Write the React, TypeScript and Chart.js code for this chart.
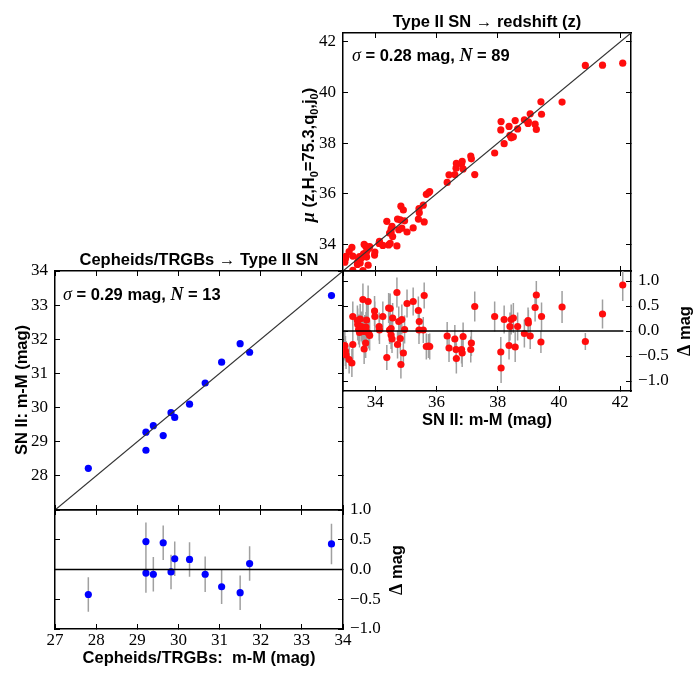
import React, { useEffect, useRef } from 'react';
import { Chart, registerables } from 'chart.js';

Chart.register(...registerables);

// ---------- data: Cepheid/TRGB calibrators (blue) ----------
const calibMM = [27.81, 29.21, 29.21, 29.39, 29.63, 29.82, 29.91, 30.27, 30.65, 31.05, 31.50, 31.73, 33.72];
const calibSN = [28.22, 28.75, 29.28, 29.47, 29.18, 29.85, 29.71, 30.10, 30.72, 31.33, 31.87, 31.62, 33.28];
const calibResid = [-0.42, 0.47, -0.06, -0.08, 0.45, -0.04, 0.18, 0.17, -0.08, -0.29, -0.39, 0.10, 0.43];
const calibErr = [0.29, 0.32, 0.33, 0.29, 0.29, 0.29, 0.29, 0.29, 0.30, 0.29, 0.29, 0.29, 0.34];

// ---------- data: Type II SN in the Hubble flow (red) ----------
const snMM = [
  33.01, 33.03, 33.05, 33.15, 33.24, 33.27, 33.27, 33.43, 33.46, 33.49,
  33.51, 33.55, 33.58, 33.60, 33.62, 33.64, 33.66, 33.69, 33.72, 33.73,
  33.77, 33.79, 33.82, 33.98, 33.99, 34.13, 34.14, 34.25, 34.38, 34.44,
  34.49, 34.47, 34.52, 34.55, 34.57, 34.71, 34.73, 34.77, 34.82, 34.84,
  34.87, 34.92, 34.96, 35.04, 35.24, 35.41, 35.44, 35.43, 35.57, 35.60,
  35.67, 35.78, 35.74, 36.35, 36.41, 36.60, 36.65, 36.64, 36.82, 36.84,
  36.87, 37.12, 37.14, 37.25, 37.90, 38.10, 38.11, 38.21, 38.37, 38.40,
  38.44, 38.51, 38.57, 38.65, 38.87, 38.99, 39.00, 39.06, 39.22, 39.26,
  39.41, 39.43, 40.10, 40.86, 41.42, 42.08, 33.42, 34.52, 33.70,
];
const snMu = [
  33.30, 33.43, 33.53, 33.72, 33.88, 33.54, 32.98, 33.30, 33.43, 33.52,
  33.27, 33.46, 33.53, 32.97, 33.63, 34.00, 33.64, 33.93, 33.50, 33.75,
  33.18, 33.84, 33.91, 33.58, 33.70, 34.04, 34.12, 33.96, 34.91, 33.98,
  34.04, 34.45, 34.60, 34.71, 34.31, 33.94, 35.00, 34.58, 34.97, 35.51,
  34.64, 35.36, 34.93, 34.49, 34.65, 35.00, 35.25, 35.41, 35.55, 34.89,
  35.98, 36.09, 36.04, 36.45, 36.75, 36.76, 37.20, 37.01, 37.19, 37.28,
  36.98, 37.49, 37.38, 36.76, 37.61, 38.52, 38.85, 37.98, 38.66, 38.31,
  38.21, 38.25, 38.89, 38.56, 38.92, 38.78, 38.84, 39.16, 38.75, 38.54,
  39.63, 39.14, 39.62, 41.07, 41.08, 41.16, 33.21, 34.47, 33.62,
];
const snResid = [
  -0.29, -0.40, -0.48, -0.57, -0.64, -0.27, 0.29, 0.13, 0.03, -0.03,
  0.24, 0.09, 0.05, 0.63, -0.01, -0.36, 0.02, -0.24, 0.22, -0.02,
  0.59, -0.05, -0.09, 0.40, 0.29, 0.09, 0.02, 0.29, -0.53, 0.46,
  0.45, 0.02, -0.08, -0.16, 0.26, 0.77, -0.27, 0.19, -0.15, -0.67,
  0.23, -0.44, 0.03, 0.55, 0.59, 0.41, 0.19, 0.02, 0.02, 0.71,
  -0.31, -0.31, -0.30, -0.10, -0.34, -0.16, -0.55, -0.37, -0.37, -0.44,
  -0.11, -0.37, -0.24, 0.49, 0.29, -0.42, -0.74, 0.23, -0.29, 0.09,
  0.23, 0.26, -0.32, 0.09, -0.05, 0.21, 0.16, -0.10, 0.47, 0.72,
  -0.22, 0.29, 0.48, -0.21, 0.34, 0.92, 0.21, 0.05, 0.08,
];
const snErr = [
  0.30, 0.30, 0.28, 0.28, 0.28, 0.30, 0.30, 0.32, 0.30, 0.30,
  0.30, 0.30, 0.30, 0.32, 0.30, 0.30, 0.30, 0.30, 0.32, 0.30,
  0.32, 0.30, 0.30, 0.30, 0.30, 0.28, 0.28, 0.30, 0.25, 0.30,
  0.30, 0.28, 0.28, 0.28, 0.30, 0.30, 0.28, 0.30, 0.28, 0.28,
  0.30, 0.25, 0.28, 0.28, 0.28, 0.28, 0.28, 0.28, 0.26, 0.26,
  0.26, 0.26, 0.24, 0.28, 0.28, 0.28, 0.30, 0.28, 0.28, 0.28,
  0.28, 0.26, 0.26, 0.30, 0.30, 0.30, 0.30, 0.28, 0.28, 0.28,
  0.30, 0.30, 0.30, 0.28, 0.28, 0.26, 0.26, 0.26, 0.28, 0.28,
  0.22, 0.28, 0.32, 0.17, 0.29, 0.32, 0.30, 0.28, 0.30,
];

// axis ranges / reference lines
const calibRange = [27, 34];
const snRange = [32.95, 42.35];
const calibResRange = [-1, 1];
const snResRange = [-1.2, 1.2];
const snZeroSpan = [32.95, 42.1];

// ---------- layout ----------
const W = 696;
const H = 675;
const SANS = 'bold 16.5px "Liberation Sans"';
const SUB = 'bold 11px "Liberation Sans"';
const MATH = 'italic 18px "Liberation Serif"';
const MATHB = 'italic bold 18px "Liberation Serif"';
const TICK_FONT = { family: 'Liberation Serif', size: 17 };
const LABEL_W = 50; // room reserved for vertical tick labels
const LABEL_H = 28; // room reserved for horizontal tick labels

type Seg = { t: string; f: string; dy?: number };
type Label = { segs: Seg[]; x: number; y: number; align: 'left' | 'center'; rot?: number };

const labelsPlugin = (labels: Label[]) => ({
  id: 'panelLabels',
  afterDraw(chart: any) {
    const ctx = chart.ctx as CanvasRenderingContext2D;
    for (const lb of labels) {
      ctx.save();
      ctx.translate(lb.x, lb.y);
      if (lb.rot) ctx.rotate(lb.rot);
      ctx.fillStyle = '#000';
      ctx.textBaseline = 'alphabetic';
      ctx.textAlign = 'left';
      let w = 0;
      for (const s of lb.segs) {
        ctx.font = s.f;
        w += ctx.measureText(s.t).width;
      }
      let cx = lb.align === 'center' ? -w / 2 : 0;
      for (const s of lb.segs) {
        ctx.font = s.f;
        ctx.fillText(s.t, cx, s.dy || 0);
        cx += ctx.measureText(s.t).width;
      }
      ctx.restore();
    }
  },
});

const fmtInt = (hide?: number) => (v: any) =>
  hide !== undefined && Math.abs(v - hide) < 1e-9 ? '' : String(Math.round(v));
const fmtRes = (v: any) => (Math.abs(v) < 1e-9 ? 0 : v).toFixed(1).replace('-', '\u2212');

function axis(
  ax: 'x' | 'y',
  position: 'left' | 'right' | 'top' | 'bottom',
  range: number[],
  step: number,
  showLabels: boolean,
  fmt: any,
  pad: number
) {
  const vertical = position === 'left' || position === 'right';
  const size = showLabels ? (vertical ? LABEL_W : LABEL_H) : 0;
  return {
    type: 'linear',
    axis: ax,
    position,
    min: range[0],
    max: range[1],
    afterFit: (s: any) => {
      if (vertical) s.width = size;
      else s.height = size;
    },
    grid: {
      display: true,
      drawOnChartArea: false,
      drawTicks: true,
      tickLength: -5,
      tickWidth: 1,
      tickColor: '#000',
    },
    border: { display: true, color: '#000', width: 1.5 },
    ticks: {
      display: showLabels,
      stepSize: step,
      includeBounds: false,
      autoSkip: false,
      maxRotation: 0,
      minRotation: 0,
      font: TICK_FONT,
      color: '#000',
      padding: pad,
      callback: fmt,
    },
  };
}

const pts = (xs: number[], ys: number[], color: string) => ({
  data: xs.map((x, i) => ({ x, y: ys[i] })),
  showLine: false,
  pointRadius: 3.6,
  pointBackgroundColor: color,
  pointBorderColor: color,
  pointBorderWidth: 0,
  clip: 0,
});

const errBars = (xs: number[], ys: number[], es: number[]) => {
  const d: any[] = [];
  xs.forEach((x, i) => {
    d.push({ x, y: ys[i] - es[i] }, { x, y: ys[i] + es[i] }, { x, y: null });
  });
  return {
    data: d,
    showLine: true,
    spanGaps: false,
    borderColor: '#a0a0a0',
    borderWidth: 1.5,
    pointRadius: 0,
    clip: 0,
  };
};

const refLine = (xs: number[], ys: number[], color: string, width: number) => ({
  data: xs.map((x, i) => ({ x, y: ys[i] })),
  showLine: true,
  borderColor: color,
  borderWidth: width,
  pointRadius: 0,
  clip: 0,
});

type Box = { l: number; t: number; r: number; b: number };

function makeConfig(box: Box, scales: any, datasets: any[], labels: Label[]) {
  // subtract the space taken by labelled axes so the plot area lands on `box`
  const pad = { left: box.l, top: box.t, right: W - box.r, bottom: H - box.b };
  Object.values(scales).forEach((s: any) => {
    if (!s.ticks.display) return;
    if (s.position === 'left') pad.left -= LABEL_W;
    if (s.position === 'right') pad.right -= LABEL_W;
    if (s.position === 'top') pad.top -= LABEL_H;
    if (s.position === 'bottom') pad.bottom -= LABEL_H;
  });
  return {
    type: 'scatter',
    data: { datasets },
    options: {
      responsive: false,
      animation: false,
      events: [],
      layout: { padding: pad },
      plugins: { legend: { display: false }, tooltip: { enabled: false }, title: { display: false } },
      scales,
    },
    plugins: [labelsPlugin(labels)],
  } as any;
}

const sigmaLabel = (sig: string, n: string, x: number, y: number): Label => ({
  segs: [
    { t: '\u03C3', f: MATH },
    { t: ' = ' + sig + ' mag, ', f: SANS },
    { t: 'N', f: MATHB },
    { t: ' = ' + n, f: SANS },
  ],
  x,
  y,
  align: 'left',
});

const deltaLabel = (x: number, y: number): Label => ({
  segs: [
    { t: '\u0394', f: 'bold 18px "Liberation Serif"' },
    { t: ' mag', f: SANS },
  ],
  x,
  y,
  align: 'center',
  rot: -Math.PI / 2,
});

// Panel A: Cepheids/TRGBs vs SN II distance moduli
const configA = () =>
  makeConfig(
    { l: 55, t: 271, r: 343, b: 510 },
    {
      x: axis('x', 'bottom', calibRange, 1, false, fmtInt(), 6),
      x2: axis('x', 'top', calibRange, 1, false, fmtInt(), 6),
      y: axis('y', 'left', calibRange, 1, true, fmtInt(27), 12),
      y2: axis('y', 'right', calibRange, 1, false, fmtInt(), 12),
    },
    [
      refLine(calibRange, calibRange, '#333', 1.2),
      pts(calibMM, calibSN, '#0000ff'),
    ],
    [
      { segs: [{ t: 'Cepheids/TRGBs \u2192 Type II SN', f: SANS }], x: 199, y: 265, align: 'center' },
      sigmaLabel('0.29', '13', 63, 300),
      { segs: [{ t: 'SN II: m-M (mag)', f: SANS }], x: 27, y: 390, align: 'center', rot: -Math.PI / 2 },
    ]
  );

// Panel B: calibrator residuals
const configB = () =>
  makeConfig(
    { l: 55, t: 510, r: 343, b: 629 },
    {
      x: axis('x', 'bottom', calibRange, 1, true, fmtInt(), 6),
      x2: axis('x', 'top', calibRange, 1, false, fmtInt(), 6),
      y: axis('y', 'right', calibResRange, 0.5, true, fmtRes, 12),
      y2: axis('y', 'left', calibResRange, 0.5, false, fmtRes, 12),
    },
    [
      refLine(calibRange, [0, 0], '#000', 1.5),
      pts(calibMM, calibResid, '#0000ff'),
      errBars(calibMM, calibResid, calibErr),
    ],
    [
      { segs: [{ t: 'Cepheids/TRGBs:  m-M (mag)', f: SANS }], x: 199, y: 663, align: 'center' },
      deltaLabel(402, 570),
    ]
  );

// Panel C: SN II vs redshift-based distance modulus
const configC = () =>
  makeConfig(
    { l: 343, t: 33, r: 631, b: 271 },
    {
      x: axis('x', 'bottom', snRange, 2, false, fmtInt(), 6),
      x2: axis('x', 'top', snRange, 2, false, fmtInt(), 6),
      y: axis('y', 'left', snRange, 2, true, fmtInt(), 12),
      y2: axis('y', 'right', snRange, 2, false, fmtInt(), 12),
    },
    [
      refLine(snRange, snRange, '#333', 1.2),
      pts(snMM, snMu, '#ff0d0d'),
    ],
    [
      { segs: [{ t: 'Type II SN \u2192 redshift (z)', f: SANS }], x: 487, y: 27, align: 'center' },
      sigmaLabel('0.28', '89', 352, 61),
      {
        segs: [
          { t: '\u03BC', f: MATHB },
          { t: ' (z,H', f: SANS },
          { t: '0', f: SUB, dy: 4 },
          { t: '=75.3,q', f: SANS },
          { t: '0', f: SUB, dy: 4 },
          { t: ',j', f: SANS },
          { t: '0', f: SUB, dy: 4 },
          { t: ')', f: SANS },
        ],
        x: 314,
        y: 155,
        align: 'center',
        rot: -Math.PI / 2,
      },
    ]
  );

// Panel D: SN II Hubble residuals
const configD = () =>
  makeConfig(
    { l: 343, t: 271, r: 631, b: 391 },
    {
      x: axis('x', 'bottom', snRange, 2, true, fmtInt(), 6),
      x2: axis('x', 'top', snRange, 2, false, fmtInt(), 6),
      y: axis('y', 'right', snResRange, 0.5, true, fmtRes, 12),
      y2: axis('y', 'left', snResRange, 0.5, false, fmtRes, 12),
    },
    [
      refLine(snZeroSpan, [0, 0], '#000', 1.5),
      pts(snMM, snResid, '#ff0d0d'),
      errBars(snMM, snResid, snErr),
    ],
    [
      { segs: [{ t: 'SN II: m-M (mag)', f: SANS }], x: 487, y: 425, align: 'center' },
      deltaLabel(690, 331),
    ]
  );

function Panel({ make }: { make: () => any }) {
  const ref = useRef<HTMLCanvasElement>(null);
  useEffect(() => {
    if (!ref.current) return;
    const chart = new Chart(ref.current, make());
    return () => chart.destroy();
  }, [make]);
  return (
    <canvas
      ref={ref}
      width={W}
      height={H}
      style={{ position: 'absolute', left: 0, top: 0, width: W, height: H }}
    />
  );
}

export default function App() {
  return (
    <div style={{ position: 'absolute', left: 0, top: 0, width: W, height: H, background: '#fff' }}>
      <Panel make={configA} />
      <Panel make={configB} />
      <Panel make={configC} />
      <Panel make={configD} />
    </div>
  );
}
